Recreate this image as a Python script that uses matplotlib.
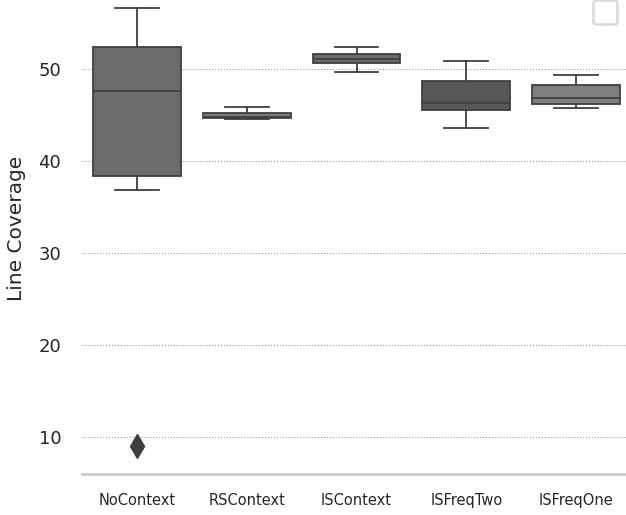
import matplotlib
matplotlib.use('Agg')
import matplotlib.pyplot as plt

# summary stats
labels = ['NoContext', 'RSContext', 'ISContext', 'ISFreqTwo', 'ISFreqOne']
whislo = [36.85, 44.55, 49.7, 43.6, 45.8]
q1 = [38.4, 44.65, 50.7, 45.5, 46.2]
med = [47.6, 44.75, 51.1, 46.3, 46.9]
q3 = [52.4, 45.2, 51.6, 48.7, 48.3]
whishi = [56.6, 45.9, 52.4, 50.9, 49.4]
fliers = [[9.0], [], [], [], []]
box_colors = ['#6b6b6b', '#7a7a7a', '#6a6a6a', '#575757', '#808080']

stats = []
for i, lab in enumerate(labels):
    stats.append(dict(label=lab, whislo=whislo[i], q1=q1[i], med=med[i],
                      q3=q3[i], whishi=whishi[i], fliers=fliers[i]))

fig = plt.figure(figsize=(6.26, 5.15), dpi=100)
# axes runs a little past the top/right of the canvas, as in the cropped original
ax = fig.add_axes([82 / 626, 41 / 515, 549 / 626, (474 + 17) / 515])

line_col = '#3f3f3f'
bp = ax.bxp(stats, positions=range(len(labels)), widths=0.8,
            patch_artist=True, showfliers=True,
            boxprops=dict(edgecolor=line_col, linewidth=1.3),
            medianprops=dict(color=line_col, linewidth=1.3),
            whiskerprops=dict(color=line_col, linewidth=1.3),
            capprops=dict(color=line_col, linewidth=1.3),
            flierprops=dict(marker='d', markerfacecolor=line_col,
                            markeredgecolor=line_col, markersize=12))
for patch, c in zip(bp['boxes'], box_colors):
    patch.set_facecolor(c)

ax.set_xlim(-0.5, 4.5)
ax.set_ylim(6, 59.35)
ax.set_yticks([10, 20, 30, 40, 50])
ax.yaxis.grid(True, linestyle=':', color='#999999', linewidth=0.8)
ax.set_axisbelow(True)

for side in ['left', 'right', 'top']:
    ax.spines[side].set_visible(False)
ax.spines['bottom'].set_color('#cccccc')
ax.spines['bottom'].set_linewidth(2)

ax.tick_params(axis='y', length=0, labelsize=13, colors='#262626', pad=15)
ax.tick_params(axis='x', length=0, labelsize=10.5, colors='#262626', pad=14)
ax.set_ylabel('Line Coverage', fontsize=14.5, color='#262626', labelpad=9)

# empty legend box, as in the original
leg = ax.legend(handles=[], loc='upper right', frameon=True,
                borderaxespad=0, borderpad=0.85)
leg.set_bbox_to_anchor((617 / 626, 1.0), transform=fig.transFigure)
leg.get_frame().set_edgecolor('#d0d0d0')
leg.get_frame().set_linewidth(1.8)

fig.savefig('out.png', dpi=100)
